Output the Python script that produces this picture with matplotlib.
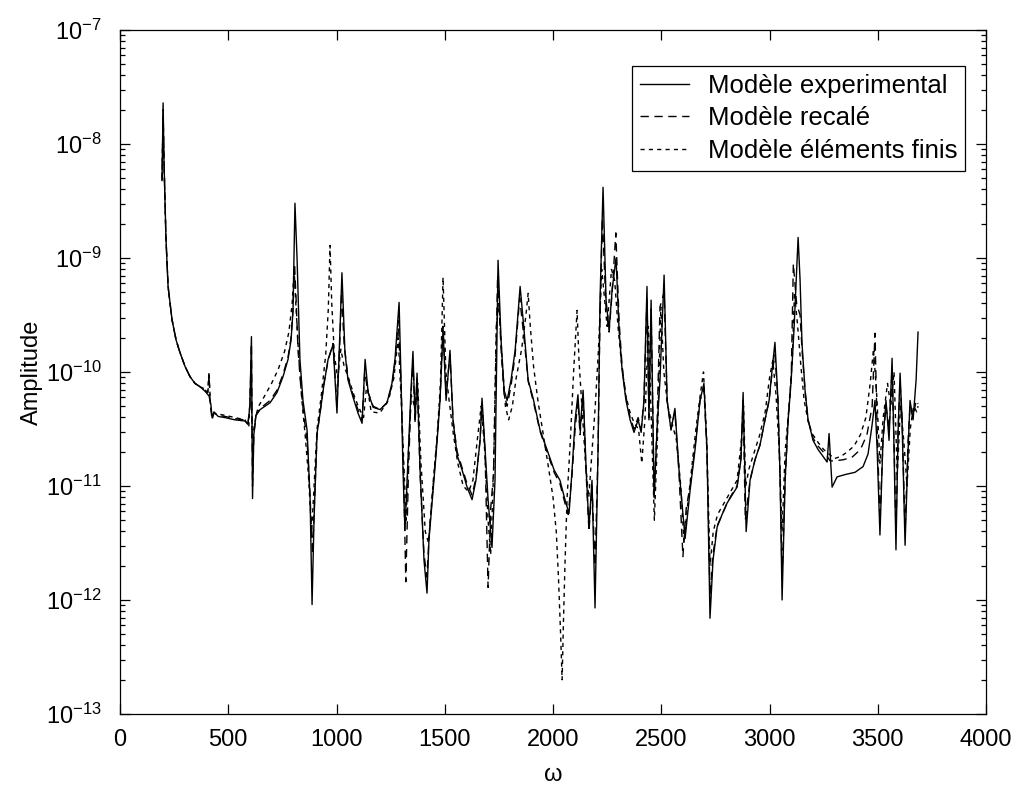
import matplotlib
matplotlib.use("Agg")
import matplotlib.pyplot as plt
import numpy as np
from matplotlib.ticker import FixedLocator, LogLocator, NullFormatter, FuncFormatter

plt.rcParams["font.family"] = ["Liberation Sans", "DejaVu Sans"]
plt.rcParams["mathtext.default"] = "regular"

# (omega, log10 amplitude)
experimental = [
    (194, -8.32), (199, -7.64), (203, -8.14), (212, -8.82), (222, -9.25), (240, -9.54),
    (259, -9.72), (277, -9.83), (300, -9.95), (323, -10.04), (346, -10.10), (370, -10.13),
    (393, -10.17), (411, -10.21), (420, -10.29), (425, -10.40), (434, -10.35), (453, -10.39),
    (485, -10.40), (531, -10.42), (577, -10.43), (591, -10.46), (600, -10.29), (607, -9.69),
    (612, -11.11), (618, -10.55), (628, -10.38), (647, -10.33), (693, -10.27), (725, -10.18),
    (753, -10.04), (776, -9.89), (790, -9.72), (799, -9.46), (808, -8.52), (818, -9.02),
    (831, -9.89), (845, -10.25), (864, -10.51), (878, -11.12), (887, -12.04), (896, -11.30),
    (910, -10.54), (924, -10.36), (942, -10.11), (961, -9.89), (984, -9.76), (1002, -10.36),
    (1016, -9.63), (1025, -9.13), (1039, -9.83), (1053, -10.07), (1076, -10.22), (1099, -10.36),
    (1118, -10.45), (1132, -9.89), (1146, -10.18), (1169, -10.31), (1201, -10.33), (1233, -10.27),
    (1256, -10.10), (1270, -9.89), (1289, -9.39), (1298, -10.07), (1307, -10.86), (1316, -11.39),
    (1330, -10.77), (1344, -10.16), (1353, -9.82), (1363, -10.42), (1372, -10.01), (1386, -10.86),
    (1404, -11.65), (1418, -11.94), (1427, -11.47), (1446, -11.04), (1464, -10.62), (1478, -10.25),
    (1492, -9.63), (1506, -10.25), (1524, -9.81), (1538, -10.42), (1557, -10.73), (1580, -10.86),
    (1603, -11.01), (1626, -11.12), (1644, -10.95), (1663, -10.60), (1672, -10.23), (1686, -10.68),
    (1700, -11.12), (1718, -11.54), (1732, -10.95), (1746, -9.02), (1760, -9.72), (1774, -10.16),
    (1788, -10.25), (1806, -10.07), (1825, -9.81), (1848, -9.25), (1866, -9.63), (1885, -10.07),
    (1908, -10.23), (1940, -10.51), (1972, -10.68), (2005, -10.86), (2032, -10.95), (2055, -11.12),
    (2074, -11.24), (2088, -10.86), (2102, -10.42), (2115, -10.20), (2125, -10.51), (2139, -10.16),
    (2153, -10.86), (2166, -11.36), (2180, -10.95), (2194, -12.07), (2208, -10.68), (2217, -9.37),
    (2231, -8.38), (2245, -9.37), (2259, -9.63), (2273, -9.28), (2291, -9.00), (2305, -9.63),
    (2319, -9.98), (2337, -10.25), (2356, -10.42), (2374, -10.53), (2393, -10.42), (2407, -10.53),
    (2420, -10.25), (2434, -9.25), (2443, -10.42), (2453, -9.37), (2467, -11.10), (2480, -10.51),
    (2494, -10.07), (2513, -9.15), (2527, -10.25), (2545, -10.51), (2563, -10.32), (2582, -10.86),
    (2610, -11.46), (2633, -11.04), (2656, -10.68), (2679, -10.25), (2697, -10.10), (2711, -10.68),
    (2725, -12.16), (2739, -11.65), (2758, -11.36), (2781, -11.25), (2804, -11.15), (2827, -11.08),
    (2850, -11.01), (2868, -10.77), (2878, -10.18), (2892, -11.40), (2910, -10.95), (2933, -10.77),
    (2956, -10.64), (2979, -10.42), (2998, -10.25), (3012, -9.98), (3025, -9.74), (3039, -10.25),
    (3049, -10.95), (3058, -12.00), (3072, -10.95), (3086, -10.42), (3100, -10.07), (3113, -9.63),
    (3132, -8.82), (3141, -9.19), (3150, -9.75), (3164, -10.16), (3178, -10.42), (3201, -10.60),
    (3224, -10.68), (3247, -10.74), (3266, -10.79), (3275, -10.54), (3289, -11.01), (3312, -10.92),
    (3349, -10.90), (3395, -10.88), (3432, -10.83), (3455, -10.72), (3474, -10.46), (3487, -10.25),
    (3497, -10.68), (3510, -11.43), (3524, -10.60), (3538, -10.25), (3552, -10.60), (3566, -9.88),
    (3575, -10.68), (3584, -11.56), (3594, -10.51), (3603, -10.01), (3612, -10.42), (3626, -11.52),
    (3640, -10.68), (3649, -10.25), (3663, -10.42), (3677, -10.07), (3686, -9.65),
]

recale = [
    (194, -8.32), (199, -7.70), (203, -8.14), (212, -8.82), (222, -9.25), (240, -9.54),
    (259, -9.72), (277, -9.83), (300, -9.95), (323, -10.04), (346, -10.10), (370, -10.13),
    (393, -10.16), (406, -10.18), (411, -10.02), (416, -10.25), (425, -10.42), (434, -10.36),
    (453, -10.38), (485, -10.39), (531, -10.41), (577, -10.42), (591, -10.45), (600, -10.30),
    (607, -9.75), (612, -11.00), (618, -10.55), (628, -10.38), (647, -10.32), (693, -10.25),
    (725, -10.16), (753, -10.02), (776, -9.87), (790, -9.70), (799, -9.45), (806, -9.05),
    (813, -9.35), (822, -9.80), (836, -10.15), (850, -10.40), (864, -10.60), (878, -11.10),
    (889, -11.60), (898, -11.15), (910, -10.55), (924, -10.35), (942, -10.10), (961, -9.90),
    (984, -9.75), (1002, -10.30), (1016, -9.70), (1023, -9.30), (1035, -9.75), (1053, -10.05),
    (1076, -10.20), (1099, -10.33), (1118, -10.42), (1130, -10.00), (1146, -10.18), (1169, -10.30),
    (1201, -10.33), (1233, -10.27), (1256, -10.12), (1270, -9.92), (1285, -9.55), (1298, -10.10),
    (1310, -10.90), (1320, -11.84), (1332, -10.90), (1344, -10.20), (1353, -9.90), (1363, -10.45),
    (1372, -10.05), (1386, -10.90), (1404, -11.60), (1418, -11.80), (1427, -11.45), (1446, -11.00),
    (1464, -10.60), (1478, -10.25), (1492, -9.60), (1506, -10.20), (1524, -9.85), (1538, -10.42),
    (1557, -10.70), (1580, -10.84), (1603, -10.98), (1626, -11.08), (1644, -10.93), (1663, -10.60),
    (1672, -10.28), (1686, -10.70), (1700, -11.89), (1712, -11.20), (1725, -10.90), (1744, -9.15),
    (1760, -9.80), (1774, -10.20), (1788, -10.30), (1806, -10.12), (1825, -9.85), (1846, -9.35),
    (1866, -9.70), (1885, -10.08), (1908, -10.25), (1940, -10.52), (1972, -10.70), (2005, -10.88),
    (2032, -10.98), (2055, -11.15), (2070, -11.25), (2088, -10.90), (2102, -10.50), (2115, -10.25),
    (2125, -10.55), (2139, -10.20), (2153, -10.90), (2166, -11.40), (2180, -11.00), (2194, -11.70),
    (2208, -10.70), (2217, -9.50), (2228, -8.65), (2245, -9.45), (2259, -9.65), (2273, -9.30),
    (2290, -8.78), (2305, -9.55), (2319, -9.95), (2337, -10.22), (2356, -10.40), (2374, -10.50),
    (2393, -10.40), (2407, -10.50), (2420, -10.25), (2434, -9.35), (2443, -10.40), (2453, -9.45),
    (2467, -11.10), (2480, -10.50), (2494, -9.43), (2513, -9.30), (2527, -10.25), (2545, -10.50),
    (2563, -10.35), (2582, -10.90), (2600, -11.62), (2615, -11.20), (2633, -11.00), (2656, -10.65),
    (2679, -10.25), (2697, -10.15), (2711, -10.70), (2725, -11.95), (2739, -11.60), (2758, -11.35),
    (2781, -11.25), (2804, -11.15), (2827, -11.07), (2850, -11.00), (2868, -10.75), (2878, -10.25),
    (2888, -11.30), (2910, -10.95), (2933, -10.77), (2956, -10.64), (2979, -10.42), (2998, -10.25),
    (3012, -10.00), (3025, -9.85), (3039, -10.25), (3049, -10.95), (3058, -11.80), (3072, -10.95),
    (3086, -10.42), (3100, -10.07), (3110, -9.05), (3125, -9.40), (3141, -9.50), (3150, -9.80),
    (3164, -10.16), (3178, -10.42), (3201, -10.58), (3224, -10.65), (3247, -10.70), (3266, -10.74),
    (3280, -10.78), (3300, -10.78), (3340, -10.77), (3380, -10.75), (3420, -10.68), (3450, -10.55),
    (3474, -10.30), (3487, -9.66), (3497, -10.50), (3510, -11.30), (3524, -10.60), (3538, -10.30),
    (3552, -10.50), (3566, -10.00), (3575, -10.60), (3584, -11.40), (3594, -10.50), (3603, -10.10),
    (3612, -10.40), (3626, -11.40), (3640, -10.60), (3649, -10.30), (3663, -10.40), (3677, -10.25),
    (3686, -10.28),
]

elements_finis = [
    (194, -8.30), (199, -7.75), (203, -8.14), (212, -8.82), (222, -9.25), (240, -9.54),
    (259, -9.72), (277, -9.83), (300, -9.95), (323, -10.04), (346, -10.10), (370, -10.13),
    (393, -10.15), (404, -10.18), (411, -10.00), (418, -10.30), (425, -10.38), (434, -10.36),
    (453, -10.37), (485, -10.38), (531, -10.40), (577, -10.42), (595, -10.48), (605, -10.00),
    (610, -10.60), (618, -10.50), (628, -10.38), (640, -10.30), (665, -10.22), (700, -10.10),
    (730, -9.98), (760, -9.82), (780, -9.65), (795, -9.40), (804, -9.10), (812, -9.40),
    (825, -9.85), (840, -10.25), (855, -10.55), (870, -10.90), (885, -11.40), (895, -11.05),
    (910, -10.50), (930, -10.20), (950, -9.85), (962, -9.45), (970, -8.89), (978, -9.40),
    (990, -9.85), (1005, -10.05), (1020, -9.80), (1035, -9.95), (1055, -10.05), (1080, -10.20),
    (1100, -10.30), (1125, -10.40), (1140, -10.10), (1160, -10.35), (1200, -10.36), (1240, -10.25),
    (1265, -10.05), (1285, -9.70), (1300, -10.30), (1315, -11.00), (1322, -11.30), (1330, -10.80),
    (1345, -10.20), (1360, -10.30), (1375, -10.10), (1390, -10.80), (1410, -11.40), (1425, -11.50),
    (1445, -11.00), (1465, -10.55), (1480, -10.10), (1492, -9.17), (1505, -10.00), (1520, -10.25),
    (1540, -10.55), (1560, -10.80), (1585, -11.00), (1610, -11.05), (1630, -10.95), (1650, -10.60),
    (1668, -10.30), (1685, -10.70), (1700, -11.30), (1712, -11.60), (1725, -10.90), (1738, -9.60),
    (1750, -9.40), (1765, -9.90), (1780, -10.30), (1795, -10.42), (1812, -10.30), (1830, -10.05),
    (1855, -9.80), (1875, -9.50), (1885, -9.31), (1895, -9.60), (1910, -9.95), (1930, -10.25),
    (1955, -10.55), (1980, -10.85), (2000, -11.10), (2015, -11.40), (2025, -11.80), (2035, -12.30),
    (2042, -12.70), (2048, -12.20), (2055, -11.70), (2065, -11.10), (2080, -10.60), (2095, -10.00),
    (2111, -9.46), (2120, -9.90), (2135, -10.35), (2150, -10.80), (2165, -11.10), (2180, -10.70),
    (2195, -10.30), (2210, -9.80), (2225, -9.10), (2235, -9.30), (2250, -9.60), (2270, -9.10),
    (2285, -9.20), (2300, -9.60), (2315, -9.90), (2335, -10.20), (2355, -10.35), (2375, -10.45),
    (2395, -10.50), (2410, -10.80), (2425, -10.40), (2440, -9.60), (2452, -10.30), (2468, -11.30),
    (2482, -10.60), (2498, -9.43), (2512, -10.00), (2530, -10.30), (2550, -10.45), (2570, -10.60),
    (2590, -11.00), (2605, -11.50), (2620, -11.20), (2640, -10.85), (2660, -10.50), (2680, -10.20),
    (2695, -10.00), (2710, -10.60), (2725, -11.70), (2740, -11.40), (2760, -11.25), (2790, -11.15),
    (2820, -11.05), (2850, -10.95), (2870, -10.60), (2880, -10.30), (2890, -11.00), (2905, -10.85),
    (2930, -10.70), (2955, -10.55), (2980, -10.35), (3000, -10.05), (3015, -9.90), (3030, -10.20),
    (3045, -10.70), (3058, -11.40), (3072, -10.70), (3090, -10.30), (3105, -9.90), (3115, -9.30),
    (3130, -9.60), (3145, -9.95), (3160, -10.25), (3180, -10.45), (3200, -10.55), (3225, -10.62),
    (3250, -10.68), (3275, -10.72), (3300, -10.76), (3330, -10.74), (3360, -10.70), (3390, -10.65),
    (3420, -10.55), (3445, -10.40), (3465, -10.10), (3480, -9.80), (3495, -10.20), (3510, -10.80),
    (3525, -10.40), (3545, -10.10), (3560, -10.30), (3575, -10.00), (3590, -10.90), (3605, -10.30),
    (3620, -10.60), (3635, -11.00), (3650, -10.50), (3665, -10.30), (3680, -10.35), (3686, -10.30),
]

labels = ["Modèle experimental", "Modèle recalé", "Modèle éléments finis"]
x_ticks = [0, 500, 1000, 1500, 2000, 2500, 3000, 3500, 4000]
y_decades = [-13, -12, -11, -10, -9, -8, -7]


def split(series):
    om, ex = zip(*series)
    return np.array(om, dtype=float), 10.0 ** np.array(ex)


fig = plt.figure(figsize=(10.18, 7.87), dpi=100)
ax = fig.add_axes([0.1179, 0.0928, 0.8507, 0.8691])

styles = ["-", (0, (6, 4)), (0, (3, 3))]
for series, ls, lab in zip([experimental, recale, elements_finis], styles, labels):
    om, amp = split(series)
    ax.plot(om, amp, color="black", linestyle=ls, linewidth=1.0, label=lab)

ax.set_yscale("log")
ax.set_xlim(0, 4000)
ax.set_ylim(10.0 ** y_decades[0], 10.0 ** y_decades[-1])
ax.xaxis.set_major_locator(FixedLocator(x_ticks))
ax.yaxis.set_major_locator(FixedLocator([10.0 ** d for d in y_decades]))
ax.yaxis.set_minor_locator(LogLocator(base=10, subs=np.arange(2, 10)))
ax.yaxis.set_minor_formatter(NullFormatter())
ax.yaxis.set_major_formatter(FuncFormatter(
    lambda v, p: r"$10^{%d}$" % int(round(np.log10(v)))))

ax.tick_params(which="both", direction="in", top=True, right=True,
               labelsize=17, colors="black", width=0.9)
ax.tick_params(which="major", length=7)
ax.tick_params(which="minor", length=3.5)
ax.tick_params(axis="x", which="major", pad=11)
ax.tick_params(axis="y", which="major", pad=13)
for sp in ax.spines.values():
    sp.set_linewidth(0.9)

ax.set_xlabel("ω", fontsize=17, labelpad=9)
ax.set_ylabel("Amplitude", fontsize=17, labelpad=2)

leg = ax.legend(loc="upper right", bbox_to_anchor=(0.9757, 0.947), borderaxespad=0,
                fontsize=18.5, frameon=True, fancybox=False, handlelength=1.9,
                handletextpad=0.75, labelspacing=0.33, borderpad=0.3)
leg.get_frame().set_edgecolor("black")
leg.get_frame().set_linewidth(0.9)
leg.get_frame().set_alpha(1)

fig.savefig("out.png", dpi=100)
